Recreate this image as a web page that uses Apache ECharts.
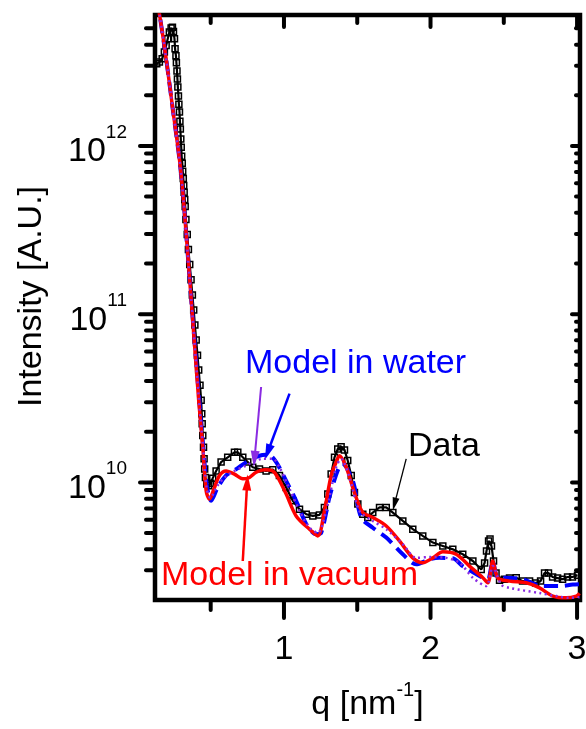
<!DOCTYPE html>
<html><head><meta charset="utf-8">
<script src="https://cdn.jsdelivr.net/npm/echarts@6/dist/echarts.min.js"></script>
<style>html,body{margin:0;padding:0;background:#fff}#c{width:586px;height:729px}</style>
</head><body><div id="c"></div>
<script>
// ---- Data ----
const dataQ = [0.132,0.150,0.169,0.184,0.196,0.207,0.218,0.230,0.239,0.246,
0.253,0.257,0.263,0.266,0.270,0.273,0.276,0.280,0.283,0.287,
0.290,0.293,0.296,0.299,0.302,0.306,0.309,0.313,0.316,0.319,
0.323,0.326,0.331,0.340,0.348,0.357,0.366,0.375,0.384,0.392,
0.401,0.410,0.418,0.427,0.435,0.439,0.442,0.446,0.451,0.455,
0.459,0.464,0.473,0.487,0.500,0.514,0.537,0.571,0.616,0.662,
0.685,0.719,0.753,0.787,0.833,0.878,0.924,0.969,1.015,1.060,
1.106,1.152,1.197,1.242,1.276,1.299,1.322,1.345,1.367,1.390,
1.413,1.435,1.459,1.481,1.504,1.538,1.572,1.606,1.652,1.698,
1.743,1.811,1.879,1.947,2.016,2.084,2.152,2.220,2.289,2.346,
2.369,2.382,2.396,2.406,2.416,2.430,2.447,2.471,2.505,2.539,
2.585,2.628,2.676,2.717,2.751,2.778,2.805,2.833,2.867,2.901,
2.935,2.969,3.003];
const dataI = [3.08e12,3.15e12,3.30e12,3.61e12,3.95e12,4.34e12,4.75e12,5.02e12,5.08e12,4.78e12,
4.34e12,3.78e12,3.43e12,3.12e12,2.79e12,2.50e12,2.24e12,1.98e12,1.77e12,1.59e12,
1.40e12,1.26e12,1.10e12,9.82e11,8.67e11,7.89e11,7.06e11,6.41e11,5.82e11,5.30e11,
4.81e11,4.37e11,3.65e11,2.97e11,2.42e11,1.97e11,1.60e11,1.30e11,1.06e11,8.61e10,
7.01e10,5.70e10,4.65e10,3.78e10,3.08e10,2.56e10,2.23e10,1.90e10,1.62e10,1.38e10,
1.20e10,1.07e10,9.77e9,9.55e9,9.89e9,1.06e10,1.17e10,1.32e10,1.41e10,1.51e10,
1.51e10,1.41e10,1.32e10,1.23e10,1.20e10,1.17e10,1.19e10,1.10e10,9.33e9,7.78e9,
6.93e9,6.47e9,6.32e9,6.41e9,7.10e9,8.53e9,1.12e10,1.41e10,1.58e10,1.63e10,
1.56e10,1.35e10,1.10e10,8.71e9,7.43e9,6.47e9,6.18e9,6.62e9,7.10e9,7.10e9,
6.62e9,5.90e9,5.27e9,4.81e9,4.39e9,4.19e9,4.00e9,3.74e9,3.41e9,3.04e9,
3.32e9,3.91e9,4.49e9,4.61e9,4.19e9,3.41e9,2.89e9,2.62e9,2.66e9,2.70e9,
2.71e9,2.59e9,2.59e9,2.52e9,2.59e9,2.89e9,2.89e9,2.74e9,2.70e9,2.66e9,
2.74e9,2.74e9,2.81e9];

const vacuumQ = [0.130,0.150,0.196,0.241,0.287,0.314,0.367,0.418,0.446,0.469,
0.491,0.526,0.560,0.605,0.662,0.719,0.765,0.810,0.867,0.924,
0.958,1.015,1.083,1.174,1.231,1.276,1.322,1.356,1.379,1.425,
1.481,1.538,1.606,1.698,1.788,1.879,1.947,2.016,2.084,2.175,
2.266,2.357,2.391,2.425,2.459,2.539,2.653,2.744,2.835,2.926,
2.995,3.017];
const vacuumI = [7.5e12,6.11e12,3.30e12,1.66e12,8.30e11,4.81e11,1.22e11,3.08e10,1.62e10,8.91e9,
7.96e9,9.33e9,1.10e10,1.17e10,1.12e10,1.05e10,1.07e10,1.15e10,1.19e10,1.17e10,
1.07e10,8.53e9,6.32e9,5.27e9,4.81e9,6.78e9,1.10e10,1.32e10,1.44e10,1.23e10,
8.71e9,6.62e9,6.18e9,5.51e9,4.49e9,3.56e9,3.33e9,3.56e9,3.87e9,3.74e9,
3.18e9,2.71e9,2.53e9,3.41e9,2.71e9,2.59e9,2.53e9,2.36e9,2.11e9,2.06e9,
2.11e9,2.19e9];

const waterQ = [0.130,0.150,0.196,0.241,0.287,0.314,0.367,0.422,0.451,0.474,
0.503,0.548,0.605,0.674,0.742,0.833,0.894,0.947,1.015,1.083,
1.152,1.220,1.254,1.322,1.399,1.470,1.527,1.606,1.698,1.811,
1.902,1.993,2.061,2.152,2.220,2.357,2.391,2.425,2.459,2.517,
2.630,2.767,2.881,2.971,3.017];
const waterI = [7.5e12,6.11e12,3.30e12,1.66e12,8.30e11,4.81e11,1.22e11,3.08e10,1.55e10,9.55e9,
7.78e9,9.33e9,1.10e10,1.20e10,1.32e10,1.44e10,1.46e10,1.32e10,1.02e10,7.78e9,
5.66e9,4.92e9,5.02e9,8.91e9,1.29e10,1.02e10,6.18e9,5.38e9,4.70e9,3.74e9,
3.26e9,3.49e9,3.56e9,3.54e9,3.18e9,2.71e9,2.66e9,3.41e9,2.71e9,2.71e9,
2.65e9,2.42e9,2.42e9,2.47e9,2.48e9];

const water2Q = [0.130,0.150,0.196,0.241,0.287,0.314,0.367,0.420,0.448,0.472,
0.498,0.546,0.601,0.662,0.742,0.787,0.855,0.924,0.969,1.038,
1.106,1.174,1.231,1.288,1.356,1.390,1.447,1.515,1.606,1.698,
1.811,1.902,1.993,2.107,2.198,2.289,2.380,2.425,2.483,2.539,
2.744,2.858,2.949,3.017];
const water2I = [7.5e12,6.11e12,3.30e12,1.66e12,8.30e11,4.81e11,1.22e11,3.08e10,1.62e10,9.30e9,
8.09e9,9.55e9,1.08e10,1.17e10,1.26e10,1.32e10,1.38e10,1.38e10,1.23e10,9.16e9,
6.78e9,5.38e9,5.02e9,6.78e9,1.23e10,1.38e10,1.07e10,6.78e9,5.90e9,5.27e9,
4.29e9,3.56e9,3.60e9,3.56e9,3.33e9,2.71e9,2.42e9,3.18e9,2.47e9,2.36e9,
2.20e9,2.11e9,2.06e9,2.08e9];

// ---- Axes / ticks ----
const xMin = 0.12, xMax = 3.02;
const yMin = 2e9, yMax = 6e12;
const xMajorTicks = [1, 2, 3];
const xTickLabels = ['1', '2', '3'];
const xMinorTicks = [0.5, 1.5, 2.5];
const yMajorTicks = [1e10, 1e11, 1e12];
const yTickExponents = ['10', '11', '12'];
const yMinorTicks = [3e9,4e9,5e9,6e9,7e9,8e9,9e9,
  2e10,3e10,4e10,5e10,6e10,7e10,8e10,9e10,
  2e11,3e11,4e11,5e11,6e11,7e11,8e11,9e11,
  2e12,3e12,4e12,5e12];

// ---- Annotations ----
const arrowFrom = [[0.844, 3.69e10], [1.038, 3.37e10], [0.719, 3.41e9], [1.834, 1.38e10]];
const arrowTo   = [[0.799, 1.38e10], [0.889, 1.51e10], [0.749, 1.00e10], [1.754, 7.43e9]];
const arrowColors = ['#8a2be2', '#0000ff', '#ff0000', '#000000'];
const arrowWidths = [2, 2.5, 2.5, 1.3];
const arrowHeads = [[9, 16], [9, 16], [9, 16], [7, 13]];

const FONT = "'Liberation Sans', Arial, sans-serif";
const zip = (a, b) => a.map((v, i) => [v, b[i]]);

// tick items: [x, y, kind(0=x,1=y), major]
const tickItems = [];
xMajorTicks.forEach(v => tickItems.push([v, yMin, 0, 1]));
xMinorTicks.forEach(v => tickItems.push([v, yMin, 0, 0]));
yMajorTicks.forEach(v => tickItems.push([xMin, v, 1, 1]));
yMinorTicks.forEach(v => tickItems.push([xMin, v, 1, 0]));

function tickStyle() { return { stroke: '#000', lineWidth: 4, lineCap: 'round' }; }

const chart = echarts.init(document.getElementById('c'), null, { renderer: 'canvas' });
chart.setOption({
  animation: false,
  backgroundColor: '#fff',
  grid: { left: 155, right: 6, top: 15, bottom: 129, containLabel: false, outerBoundsMode: 'none',
          show: true, borderColor: '#000', borderWidth: 4.5, backgroundColor: 'transparent' },
  xAxis: {
    type: 'value', min: xMin, max: xMax,
    axisLine: { show: false }, axisTick: { show: false }, splitLine: { show: false },
    axisLabel: {
      color: '#000', fontSize: 34, fontFamily: FONT, margin: 33,
      formatter: v => { const i = xMajorTicks.findIndex(t => Math.abs(t - v) < 1e-6); return i >= 0 ? xTickLabels[i] : ''; }
    },
    name: '{a|q [nm}{b|-1}{a|]}',
    nameLocation: 'middle', nameGap: 80,
    nameTextStyle: {
      rich: {
        a: { fontSize: 34, fontFamily: FONT, color: '#000', lineHeight: 42, verticalAlign: 'bottom' },
        b: { fontSize: 20, fontFamily: FONT, color: '#000', lineHeight: 20, verticalAlign: 'top' }
      }
    }
  },
  yAxis: {
    type: 'log', logBase: 10, min: yMin, max: yMax,
    axisLine: { show: false }, axisTick: { show: false }, splitLine: { show: false },
    axisLabel: {
      margin: 28,
      formatter: v => {
        const i = yMajorTicks.findIndex(t => Math.abs(t - v) / t < 1e-6);
        return i >= 0 ? '{b|10}{s|' + yTickExponents[i] + '}' : '';
      },
      rich: {
        b: { fontSize: 34, fontFamily: FONT, color: '#000', lineHeight: 46, verticalAlign: 'bottom' },
        s: { fontSize: 19, fontFamily: FONT, color: '#000', lineHeight: 16, verticalAlign: 'top' }
      }
    },
    name: 'Intensity [A.U.]',
    nameLocation: 'middle', nameGap: 106,
    nameTextStyle: { fontSize: 34, fontFamily: FONT, color: '#000', padding: [0, 0, 0, 22] }
  },
  graphic: [
    { type: 'text', x: 245, y: 364, style: { text: 'Model in water', fill: '#0000ff', font: '34px ' + FONT, align: 'left', verticalAlign: 'middle' } },
    { type: 'text', x: 408, y: 447, style: { text: 'Data', fill: '#000', font: '34px ' + FONT, align: 'left', verticalAlign: 'middle' } },
    { type: 'text', x: 161, y: 576, style: { text: 'Model in vacuum', fill: '#ff0000', font: '34px ' + FONT, align: 'left', verticalAlign: 'middle' } }
  ],
  series: [
    {
      name: 'Data', type: 'line', data: zip(dataQ, dataI),
      symbol: 'rect', symbolSize: 6, showAllSymbol: true,
      itemStyle: { color: 'rgba(0,0,0,0)', borderColor: '#000', borderWidth: 1.5 },
      lineStyle: { color: '#000', width: 2.2 }, z: 2
    },
    {
      name: 'Model in water', type: 'line', data: zip(waterQ, waterI), showSymbol: false, smooth: 0.3,
      lineStyle: { color: '#0000ff', width: 4, type: [14, 7] }, z: 3
    },
    {
      name: 'Model in vacuum', type: 'line', data: zip(vacuumQ, vacuumI), showSymbol: false, smooth: 0.3,
      lineStyle: { color: '#ff0000', width: 3.5 }, z: 4,
      markLine: {
        silent: true, animation: false, label: { show: false },
        data: arrowFrom.map((f, i) => [
          { coord: f, symbol: 'none', lineStyle: { color: arrowColors[i], width: arrowWidths[i], type: 'solid' }, itemStyle: { color: arrowColors[i] } },
          { coord: arrowTo[i], symbol: 'triangle', symbolSize: arrowHeads[i], itemStyle: { color: arrowColors[i] } }
        ])
      }
    },
    {
      name: 'Model in water (2)', type: 'line', data: zip(water2Q, water2I), showSymbol: false, smooth: 0.3,
      lineStyle: { color: '#8a2be2', width: 2.5, type: [2, 3.5] }, z: 5
    },
    {
      type: 'custom', clip: false, silent: true, z: 10,
      data: tickItems,
      encode: { x: 0, y: 1 },
      renderItem: (params, api) => {
        const cs = params.coordSys;
        const kind = api.value(2), major = api.value(3);
        if (kind === 0) {
          const px = api.coord([api.value(0), yMin])[0];
          const yb = cs.y + cs.height, yt = cs.y;
          const lb = major ? 18 : 10, lt = major ? 12 : 8;
          return { type: 'group', children: [
            { type: 'line', shape: { x1: px, y1: yb, x2: px, y2: yb + lb }, style: tickStyle() },
            { type: 'line', shape: { x1: px, y1: yt, x2: px, y2: yt + lt }, style: tickStyle() }
          ] };
        } else {
          const py = api.coord([xMin, api.value(1)])[1];
          const xl = cs.x, xr = cs.x + cs.width;
          const ll = major ? 15 : 9, lr = major ? 8 : 4;
          return { type: 'group', children: [
            { type: 'line', shape: { x1: xl, y1: py, x2: xl - ll, y2: py }, style: tickStyle() },
            { type: 'line', shape: { x1: xr, y1: py, x2: xr - lr, y2: py }, style: tickStyle() }
          ] };
        }
      }
    }
  ]
});
</script>
</body></html>
